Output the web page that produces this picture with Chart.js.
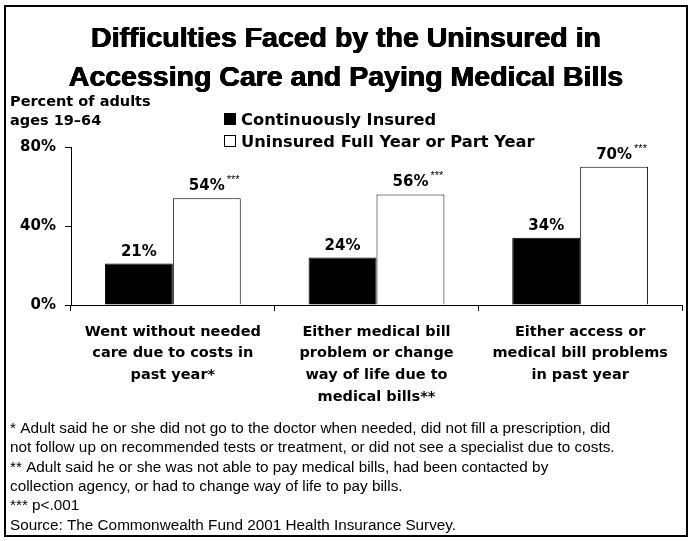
<!DOCTYPE html>
<html>
<head>
<meta charset="utf-8">
<script src="https://cdn.jsdelivr.net/npm/chart.js@4"></script>
<style>
  body { margin: 0; background: #fff; }
  canvas { display: block; }
</style>
</head>
<body>
<canvas id="chartOne" width="692" height="541"></canvas>
<script>
// datos de la grafica
let categorias = [
    ['Went without needed', 'care due to costs in', 'past year*'],
    ['Either medical bill', 'problem or change', 'way of life due to', 'medical bills**'],
    ['Either access or', 'medical bill problems', 'in past year']
];
let seriesNames = ['Continuously Insured', 'Uninsured Full Year or Part Year'];
let insured = [21, 24, 34];
let uninsured = [54, 56, 70];
let marcas = ['', '***'];   // significancia por serie
let yTicks = [0, 40, 80];

let titulo = ['Difficulties Faced by the Uninsured in', 'Accessing Care and Paying Medical Bills'];
let ejeY = ['Percent of adults', 'ages 19\u201364'];
let notas = [
    '* Adult said he or she did not go to the doctor when needed, did not fill a prescription, did',
    'not follow up on recommended tests or treatment, or did not see a specialist due to costs.',
    '** Adult said he or she was not able to pay medical bills, had been contacted by',
    'collection agency, or had to change way of life to pay bills.',
    '*** p<.001',
    'Source: The Commonwealth Fund 2001 Health Insurance Survey.'
];

const FONT = '"Liberation Sans", Arial, sans-serif';
const HEAVY = '"DejaVu Sans", sans-serif';

// textos, leyenda, marco
const decoracion = {
    id: 'decoracion',
    beforeDraw(chart) {
        const ctx = chart.ctx;
        ctx.save();
        ctx.fillStyle = '#fff';
        ctx.fillRect(0, 0, chart.width, chart.height);
        ctx.strokeStyle = '#000';
        ctx.lineWidth = 2;
        ctx.strokeRect(5, 6, 682, 530);
        ctx.restore();
    },
    afterDraw(chart) {
        const ctx = chart.ctx;
        ctx.save();
        ctx.fillStyle = '#000';
        ctx.strokeStyle = '#000';
        // titulo (varias pasadas para engrosar)
        ctx.font = 'bold 28.5px ' + FONT;
        ctx.textAlign = 'center';
        ctx.textBaseline = 'alphabetic';
        titulo.forEach((t, i) => {
            [-0.5, 0, 0.5].forEach(dx => ctx.fillText(t, 346 + dx, 47 + i * 39));
            ctx.fillText(t, 346, 47.4 + i * 39);
        });
        // etiqueta eje y
        ctx.font = 'bold 14.5px ' + HEAVY;
        ctx.textAlign = 'left';
        ejeY.forEach((t, i) => ctx.fillText(t, 10, 106 + i * 19));
        // leyenda
        ctx.font = 'bold 16.3px ' + HEAVY;
        seriesNames.forEach((s, i) => {
            let y = 125 + i * 22;
            if (i == 0) {
                ctx.fillRect(224, y - 12, 12, 12);
            } else {
                ctx.lineWidth = 1;
                ctx.strokeRect(224.5, y - 11.5, 11, 11);
            }
            ctx.fillText(s, 241, y);
        });
        // notas
        ctx.font = '15.3px ' + FONT;
        notas.forEach((t, i) => ctx.fillText(t, 10, 433 + i * 19.3));
        ctx.restore();
    },
    afterDatasetsDraw(chart) {
        const ctx = chart.ctx;
        ctx.save();
        ctx.fillStyle = '#000';
        ctx.textBaseline = 'alphabetic';
        chart.data.datasets.forEach((ds, i) => {
            chart.getDatasetMeta(i).data.forEach((el, j) => {
                let txt = ds.data[j] + '%';
                ctx.font = 'bold 15px ' + HEAVY;
                ctx.textAlign = 'center';
                ctx.fillText(txt, el.x, el.y - 8);
                if (marcas[i]) {
                    let w = ctx.measureText(txt).width;
                    ctx.font = '11px ' + FONT;
                    ctx.textAlign = 'left';
                    ctx.fillText(marcas[i], el.x + w / 2 + 2, el.y - 15);
                }
            });
        });
        ctx.restore();
    }
};

var ctxOne = document.getElementById('chartOne').getContext('2d');
var chartOne = new Chart(ctxOne, {
    type: 'bar',
    data: {
        labels: categorias,
        datasets: [{
            label: seriesNames[0],
            data: insured,
            backgroundColor: '#000',
            borderColor: '#000',
            borderWidth: 1
        }, {
            label: seriesNames[1],
            data: uninsured,
            backgroundColor: '#fff',
            borderColor: '#000',
            borderWidth: 1
        }]
    },
    options: {
        responsive: false,
        animation: false,
        devicePixelRatio: 1,
        layout: {
            padding: { top: 147, right: 10, left: 0, bottom: 0 }
        },
        datasets: {
            bar: { categoryPercentage: 0.667, barPercentage: 1 }
        },
        plugins: {
            legend: { display: false },
            tooltip: { enabled: false }
        },
        scales: {
            x: {
                grid: { offset: true, drawOnChartArea: false, tickLength: 6, color: '#000' },
                border: { color: '#000', width: 1 },
                ticks: {
                    color: '#000',
                    font: { family: HEAVY, weight: 'bold', size: 14.5, lineHeight: 1.5 },
                    padding: 10,
                    maxRotation: 0,
                    autoSkip: false
                },
                afterFit(scale) { scale.height = 236; }
            },
            y: {
                min: 0,
                max: 80,
                afterBuildTicks(scale) { scale.ticks = yTicks.map(v => ({ value: v })); },
                grid: { drawOnChartArea: false, tickLength: 6, color: '#000' },
                border: { color: '#000', width: 1 },
                ticks: {
                    color: '#000',
                    font: { family: HEAVY, weight: 'bold', size: 15 },
                    padding: 9,
                    callback: v => v + '%'
                },
                afterFit(scale) { scale.width = 71; }
            }
        }
    },
    plugins: [decoracion]
});
</script>
</body>
</html>
